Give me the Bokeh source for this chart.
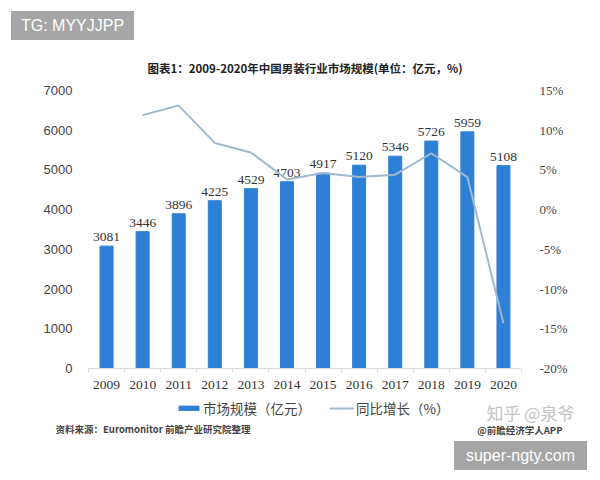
from bokeh.plotting import figure
from bokeh.models import (Range1d, LinearAxis, FixedTicker, Label, Legend, LegendItem,
                          PrintfTickFormatter)
from bokeh.core.properties import value
from bokeh.embed import file_html
from bokeh.resources import INLINE

# ---- data ----
years = ["2009", "2010", "2011", "2012", "2013", "2014", "2015", "2016", "2017", "2018", "2019", "2020"]
market_size = [3081, 3446, 3896, 4225, 4529, 4703, 4917, 5120, 5346, 5726, 5959, 5108]
growth_years = ["2010", "2011", "2012", "2013", "2014", "2015", "2016", "2017", "2018", "2019", "2020"]
growth_pct = [11.9, 13.1, 8.4, 7.2, 3.8, 4.6, 4.1, 4.4, 7.1, 4.1, -14.3]
left_ticks = [0, 1000, 2000, 3000, 4000, 5000, 6000, 7000]
right_ticks = [-20, -15, -10, -5, 0, 5, 10, 15]

title_text = "图表1：2009-2020年中国男装行业市场规模(单位：亿元，%)"
legend_bar = "市场规模（亿元）"
legend_line = "同比增长（%）"
source_text = "资料来源：Euromonitor 前瞻产业研究院整理"
brand_text = "@前瞻经济学人APP"
zhihu_text = "知乎 @泉爷"
tag_text = "TG: MYYJJPP"
site_text = "super-ngty.com"

CJK = "Noto Sans CJK SC"
SERIF = "Liberation Serif"
BAR = "#2E80D6"
LINE = "#A0B8D0"

W, H = 600, 480
# plot area on the canvas (pixels from top-left)
PL, PR, PT, PB = 88, 521, 90, 368

idx = list(range(len(years)))
gidx = [years.index(y) for y in growth_years]

# ranges chosen so that the whole canvas is the frame and the chart area maps to PL..PR, PT..PB
x0, x1 = -0.5, len(years) - 0.5
sx = (PR - PL) / (x1 - x0)
y0, y1 = left_ticks[0], left_ticks[-1]
sy = (PB - PT) / (y1 - y0)
r0, r1 = right_ticks[0], right_ticks[-1]
sr = (PB - PT) / (r1 - r0)

p = figure(width=W, height=H, output_backend="svg", toolbar_location=None,
           title_location=None,
           x_range=Range1d(x0 - PL / sx, x1 + (W - PR) / sx),
           y_range=Range1d(y0 - (H - PB) / sy, y1 + PT / sy),
           min_border=0, background_fill_color="white", border_fill_color="white")
p.outline_line_color = None
p.xgrid.visible = False
p.ygrid.visible = False
p.extra_y_ranges = {"pct": Range1d(r0 - (H - PB) / sr, r1 + PT / sr)}

# bars
bars = p.vbar(x=idx, top=market_size, width=0.36, color=BAR)
# data labels
p.text(x=idx, y=market_size, text=[str(v) for v in market_size], y_offset=-5,
       text_align="center", text_baseline="bottom", text_font=value(SERIF),
       text_font_size="13.5px", text_color="#333333")
# growth line
line = p.line(x=gidx, y=growth_pct, y_range_name="pct", line_color=LINE, line_width=2)

# axes (fixed at the chart area's edges)
xa = p.xaxis[0]
xa.fixed_location = y0
xa.bounds = (x0, x1)
xa.ticker = FixedTicker(ticks=idx, minor_ticks=[i - 0.5 for i in range(len(years) + 1)])
xa.major_label_overrides = {i: y for i, y in zip(idx, years)}
xa.axis_line_color = "#D9D9D9"
xa.major_tick_line_color = None
xa.minor_tick_line_color = "#D9D9D9"
xa.minor_tick_in = 0
xa.minor_tick_out = 4
xa.major_label_standoff = 6
xa.major_label_text_font = SERIF
xa.major_label_text_font_size = "13.5px"
xa.major_label_text_color = "#333333"

ya = p.yaxis[0]
ya.fixed_location = x0
ya.bounds = (y0, y1)
ya.ticker = FixedTicker(ticks=left_ticks)
ya.axis_line_color = None
ya.major_tick_line_color = None
ya.minor_tick_line_color = None
ya.major_label_standoff = 10
ya.major_label_text_font = "Liberation Sans"
ya.major_label_text_font_size = "13px"
ya.major_label_text_color = "#444444"

ra = LinearAxis(y_range_name="pct", ticker=FixedTicker(ticks=right_ticks),
                formatter=PrintfTickFormatter(format="%d%%"))
ra.fixed_location = x1
ra.bounds = (r0, r1)
ra.axis_line_color = None
ra.major_tick_line_color = None
ra.minor_tick_line_color = None
ra.major_label_standoff = 12
ra.major_label_text_font = SERIF
ra.major_label_text_font_size = "13px"
ra.major_label_text_color = "#444444"
p.add_layout(ra, "right")


def at(cx, cy):
    # canvas pixel (from top-left) -> screen units of the frame (from bottom-left)
    return cx, H - cy


# legend
lx, ly = at(176, 418)
legend = Legend(items=[LegendItem(label=legend_bar, renderers=[bars]),
                       LegendItem(label=legend_line, renderers=[line])],
                orientation="horizontal", location=(lx, ly),
                border_line_color=None, background_fill_alpha=0,
                label_text_font=CJK, label_text_font_size="13.5px", label_text_color="#444444",
                glyph_width=25, glyph_height=6, spacing=18, label_standoff=2,
                padding=0, margin=0)
p.add_layout(legend, "center")

tx, ty = at((PL + PR) / 2, 67)
p.add_layout(Label(x=tx, y=ty, x_units="screen", y_units="screen", text=title_text,
                   text_font=CJK, text_font_size="11.5px", text_font_style="bold",
                   text_color="#222222", text_align="center", text_baseline="middle"))

sx_, sy_ = at(55, 428)
p.add_layout(Label(x=sx_, y=sy_, x_units="screen", y_units="screen", text=source_text,
                   text_font=CJK, text_font_size="9.5px", text_font_style="bold",
                   text_color="#444444", text_align="left", text_baseline="middle"))

bx, by = at(562, 429)
p.add_layout(Label(x=bx, y=by, x_units="screen", y_units="screen", text=brand_text,
                   text_font=CJK, text_font_size="9.5px", text_font_style="bold",
                   text_color="#444444", text_align="right", text_baseline="middle"))

zx, zy = at(530, 412)
p.add_layout(Label(x=zx, y=zy, x_units="screen", y_units="screen", text=zhihu_text,
                   text_font=CJK, text_font_size="17px",
                   text_color="#C4C4C4", text_align="center", text_baseline="middle"))

gx, gy = at(72, 25)
p.add_layout(Label(x=gx, y=gy, x_units="screen", y_units="screen", text=tag_text,
                   text_font="Liberation Sans", text_font_size="16px",
                   text_color="white", text_align="center", text_baseline="middle",
                   background_fill_color="#A6A6A6", padding=(10, 6)))

wx, wy = at(520, 455)
p.add_layout(Label(x=wx, y=wy, x_units="screen", y_units="screen", text=site_text,
                   text_font="Liberation Sans", text_font_size="16px",
                   text_color="white", text_align="center", text_baseline="middle",
                   background_fill_color="#A6A6A6", padding=(12, 6)))

open("out.html", "w").write(file_html(p, INLINE))
